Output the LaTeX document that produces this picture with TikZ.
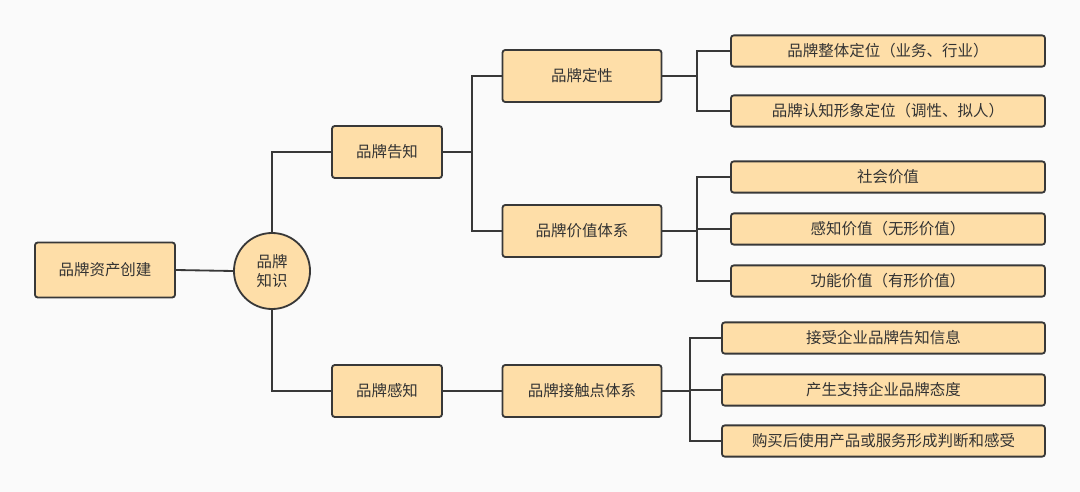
\documentclass[tikz,border=0pt]{standalone}
\usepackage{fontspec}
\setmainfont{Noto Sans CJK SC}
\begin{document}
\begin{tikzpicture}[x=0.025cm,y=-0.025cm,
  box/.style={draw=black!78,line width=1.3pt,fill=boxc,rounded corners=2pt,inner sep=0pt,text=black!80,font=\fontsize{11}{13}\selectfont},
  ln/.style={draw=black!78,line width=1.3pt}]
\definecolor{boxc}{HTML}{FEDEA8}
\fill[black!2] (0,0) rectangle (1080,492);
\useasboundingbox (0,0) rectangle (1080,492);
\node[box,minimum width=3.5cm,minimum height=1.375cm] (root) at (105,270) {品牌资产创建};
\node[box,circle,minimum size=1.9cm,align=center] (k) at (272,271) {品牌\\知识};
\node[box,minimum width=2.75cm,minimum height=1.3cm] (gz) at (387,152) {品牌告知};
\node[box,minimum width=2.75cm,minimum height=1.3cm] (gs) at (387,391) {品牌感知};
\node[box,minimum width=3.975cm,minimum height=1.3cm] (dx) at (582,76) {品牌定性};
\node[box,minimum width=3.975cm,minimum height=1.3cm] (jz) at (582,231) {品牌价值体系};
\node[box,minimum width=3.975cm,minimum height=1.3cm] (jc) at (582,391) {品牌接触点体系};
\foreach \n/\y/\t in {a/51/品牌整体定位（业务、行业）,b/111/品牌认知形象定位（调性、拟人）,c/177/社会价值,d/229/感知价值（无形价值）,e/281/功能价值（有形价值）}
  \node[box,minimum width=7.85cm,minimum height=0.78cm] (\n) at (888,\y) {\t};
\foreach \n/\y/\t in {f/338/接受企业品牌告知信息,g/390/产生支持企业品牌态度,h/441/购买后使用产品或服务形成判断和感受}
  \node[box,minimum width=8.075cm,minimum height=0.78cm] (\n) at (883.5,\y) {\t};
\draw[ln] (root.east) -- (k.west);
\draw[ln] (k.north) |- (gz.west);
\draw[ln] (k.south) |- (gs.west);
\draw[ln] (gz.east) -- (472,152);
\draw[ln] (dx.west) -| (472,231) -- (jz.west);
\draw[ln] (dx.east) -- (697,76);
\draw[ln] (a.west) -| (697,111) -- (b.west);
\draw[ln] (jz.east) -- (697,231);
\draw[ln] (c.west) -| (697,281) -- (e.west);
\draw[ln] (697,229) -- (d.west);
\draw[ln] (gs.east) -- (jc.west);
\draw[ln] (jc.east) -- (690,391);
\draw[ln] (f.west) -| (690,441) -- (h.west);
\draw[ln] (690,390) -- (g.west);
\end{tikzpicture}
\end{document}
